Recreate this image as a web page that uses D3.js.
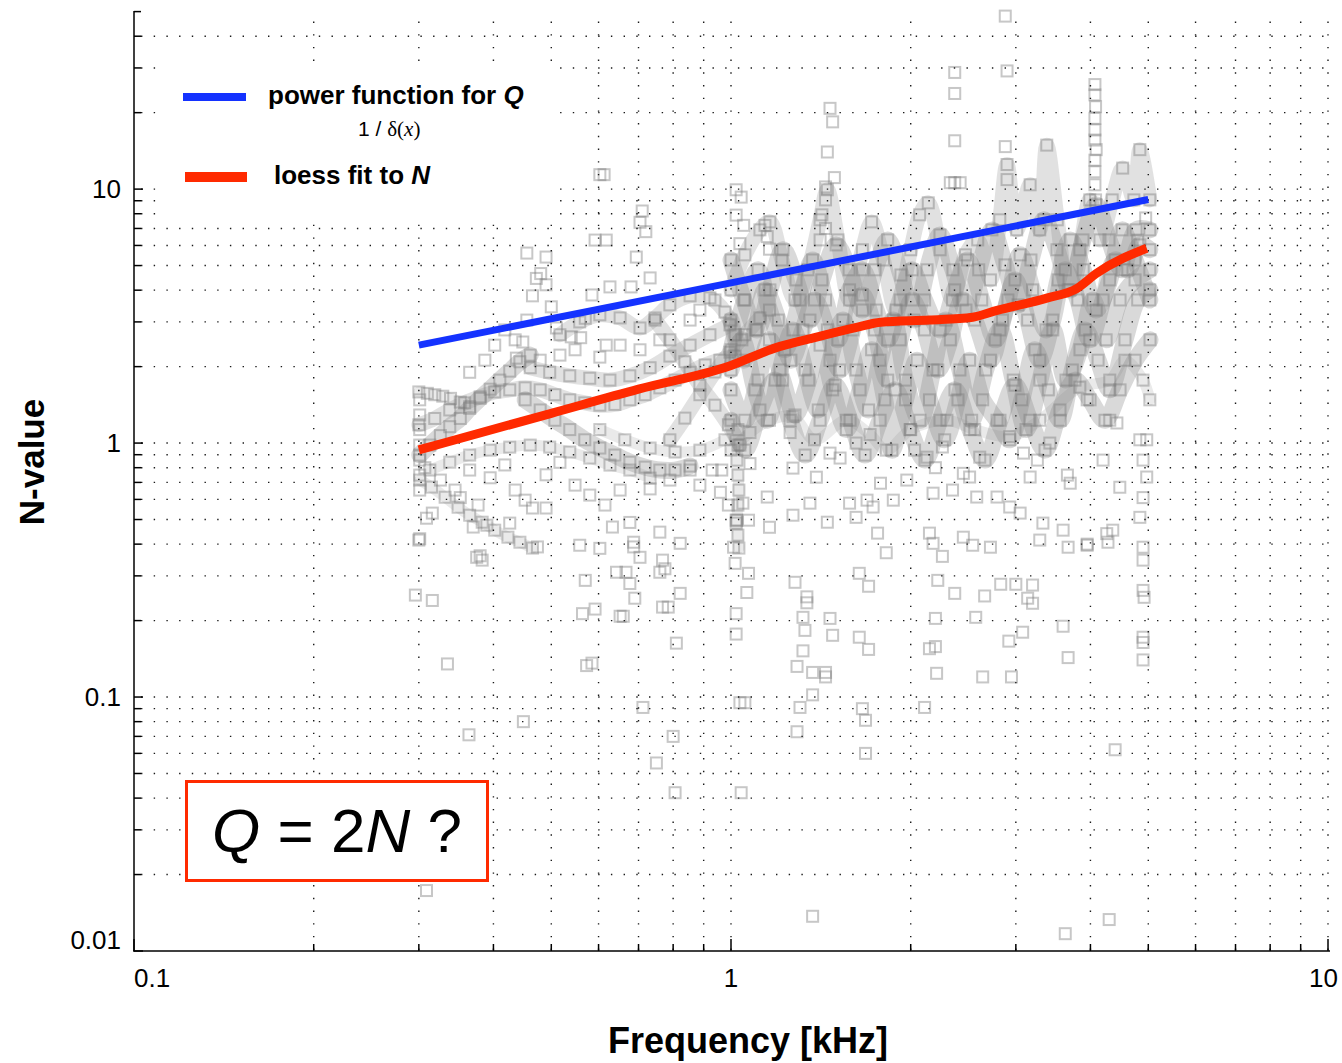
<!DOCTYPE html>
<html><head><meta charset="utf-8">
<script src="https://cdn.jsdelivr.net/npm/d3@7"></script>
<style>body{margin:0;background:#fff} svg{display:block}</style>
</head><body>
<svg id="chart" width="1342" height="1063"></svg>
<script>
// ---- axis labels ----
const xTickValues = [0.1, 1, 10];
const xTickLabels = ['0.1', '1', '10'];
const yTickValues = [0.01, 0.1, 1, 10];
const yTickLabels = ['0.01', '0.1', '1', '10'];

// ---- fitted curves: [frequency kHz, value] ----
const powerQ = [[0.3, 2.43], [5.0, 9.1]];
const loessN = [[0.3, 0.94], [0.5, 1.31], [0.7, 1.63], [1.0, 2.02], [1.18, 2.36], [1.37, 2.59], [1.63, 2.86],
  [1.78, 2.99], [2.15, 3.05], [2.54, 3.13], [2.79, 3.33], [3.38, 3.72], [3.8, 4.07], [4.1, 4.67], [4.97, 5.85]];

// ---- N-value sweeps (dense runs of measurements) ----
const sweepA = [[1.00,4.01],[1.055,5.51],[1.118,6.91],[1.162,7.43],[1.217,5.26],[1.28,3.66],[1.346,4.81],[1.41,7.57],[1.45,9.94],
  [1.51,6.31],[1.58,3.66],[1.66,5.77],[1.72,7.43],[1.80,5.26],[1.89,3.34],[2.0,5.77],[2.07,7.92],[2.14,8.83],[2.24,5.77],[2.35,3.66],
  [2.47,5.51],[2.59,6.31],[2.72,4.39],[2.82,7.57],[2.90,12.5],[3.01,6.91],[3.17,10.4],[3.29,6.91],[3.38,14.9],[3.52,7.57],[3.67,4.01],
  [3.84,5.77],[3.99,9.07],[4.15,6.31],[4.35,9.07],[4.53,12.1],[4.73,9.07],[4.84,14.3],[5.03,9.07]];
const sweepB = [[1.00,3.05],[1.05,2.12],[1.10,2.79],[1.14,4.01],[1.20,3.05],[1.26,2.12],[1.32,2.79],[1.38,3.66],[1.45,2.79],[1.52,1.94],
  [1.60,2.79],[1.66,3.83],[1.74,2.79],[1.83,1.77],[1.92,2.55],[2.01,3.66],[2.11,2.79],[2.22,1.94],[2.33,2.55],[2.44,3.66],[2.56,3.05],
  [2.72,2.12],[2.85,3.05],[2.99,4.39],[3.14,3.05],[3.29,2.12],[3.46,3.05],[3.63,4.81],[3.81,3.66],[3.99,2.55],[4.20,3.66],[4.40,5.26],
  [4.62,4.81],[4.84,6.03],[5.03,5.77]];
const sweepC = [[1.00,1.62],[1.055,1.23],[1.11,1.77],[1.16,2.55],[1.22,1.77],[1.28,1.29],[1.35,1.77],[1.41,2.43],[1.48,1.62],[1.56,1.13],
  [1.645,1.62],[1.72,2.33],[1.81,1.48],[1.86,0.938],[1.96,1.48],[2.05,2.12],[2.15,1.48],[2.28,1.03],[2.40,1.48],[2.51,2.12],[2.64,1.48],
  [2.79,1.23],[2.93,1.03],[3.07,1.48],[3.23,2.33],[3.40,1.62],[3.56,1.23],[3.73,1.94],[3.92,2.79],[4.12,2.12],[4.31,1.62],[4.57,2.55],
  [4.80,3.66],[5.03,4.01]];
const sweepD = [[1.00,2.33],[1.055,3.66],[1.11,4.81],[1.16,3.34],[1.23,2.33],[1.305,3.66],[1.37,5.26],[1.44,3.66],[1.51,2.55],[1.58,4.01],
  [1.66,4.81],[1.75,3.34],[1.83,2.55],[1.92,3.66],[2.01,4.81],[2.11,3.66],[2.24,2.79],[2.37,4.01],[2.49,5.26],[2.63,3.66],[2.77,2.55],
  [2.91,3.66],[3.05,5.51],[3.20,4.01],[3.37,2.79],[3.53,4.39],[3.70,6.31],[3.89,4.81],[4.09,3.34],[4.31,4.39],[4.52,6.91],[4.75,5.26],
  [5.03,3.66]];
const sweepE = [[1.00,0.938],[1.076,1.10],[1.16,1.23],[1.27,1.27],[1.38,1.03],[1.56,1.23],[1.71,1.08],[1.82,0.938],[2.0,1.13],[2.30,1.23],
  [2.56,1.13],[2.93,1.06],[3.29,1.23],[3.84,1.66],[4.31,1.77],[4.57,2.12],[4.90,1.77],[5.03,1.48]];
const sweepP = [[1.0,1.94],[1.043,2.55],[1.097,1.62],[1.15,1.23],[1.208,1.94],[1.27,2.79],[1.331,1.94],[1.40,1.35],[1.465,2.12],
  [1.54,3.05],[1.62,1.94],[1.70,1.35],[1.777,2.12],[1.87,3.05],[1.96,1.77],[2.073,1.23],[2.18,1.94],[2.29,3.05],[2.418,1.94],[2.53,1.23],
  [2.67,1.94],[2.822,2.79],[2.97,1.77],[3.12,1.13],[3.293,1.77],[3.46,2.79],[3.64,1.77],[3.842,2.33],[4.04,3.66],[4.25,2.55],[4.484,3.66],
  [4.751,4.39],[5.03,4.81]];
const sweepQ = [[1.0,5.26],[1.051,3.66],[1.105,2.79],[1.162,4.01],[1.222,5.77],[1.285,4.39],[1.356,3.05],[1.42,4.39],[1.50,6.03],
  [1.577,4.81],[1.66,3.34],[1.743,4.81],[1.83,6.31],[1.926,4.59],[2.026,3.05],[2.13,4.81],[2.239,6.60],[2.354,4.81],[2.475,3.34],
  [2.60,4.81],[2.736,6.91],[2.877,5.03],[3.025,3.50],[3.18,5.26],[3.344,7.57],[3.516,5.77],[3.697,4.01],[3.887,6.31],[4.087,8.67],
  [4.297,6.31],[4.518,4.81],[4.77,6.91],[5.03,6.91]];
const sweepR = [[1.0,1.23],[1.055,0.938],[1.118,1.35],[1.185,1.77],[1.256,1.23],[1.331,0.897],[1.41,1.23],[1.494,1.69],[1.583,1.23],
  [1.677,0.897],[1.777,1.23],[1.883,1.62],[1.995,1.13],[2.113,0.857],[2.239,1.23],[2.372,1.62],[2.514,1.13],[2.663,0.857],[2.822,1.23],
  [2.99,1.69],[3.168,1.23],[3.357,0.938],[3.557,1.35],[3.769,1.77],[3.994,1.48],[4.231,1.23],[4.484,1.62],[4.751,2.12],[5.034,2.55]];
const sweepF = [[0.301,0.897],[0.313,0.982],[0.326,1.07],[0.338,1.16],[0.352,1.25],[0.365,1.37],[0.38,1.50],[0.395,1.63],[0.41,1.77],
  [0.426,1.92],[0.443,2.09],[0.461,2.22]];
const sweepG = [[0.30,1.59],[0.31,1.57],[0.319,1.55],[0.329,1.53],[0.339,1.50],[0.352,1.45],[0.365,1.39]];
const sweepH = [[0.461,1.98],[0.497,1.90],[0.537,1.84],[0.58,1.80],[0.627,1.77],[0.677,1.84],[0.732,1.98],[0.79,2.20],[0.854,2.43],
  [0.922,2.67],[0.996,2.92]];
const sweepI = [[0.452,1.48],[0.479,1.35],[0.507,1.23],[0.537,1.13],[0.569,1.03],[0.603,0.956],[0.639,0.897],[0.677,0.841],[0.718,0.804],
  [0.76,0.783],[0.806,0.783],[0.854,0.812]];
const sweepJ = [[0.301,0.715],[0.315,0.671],[0.332,0.612],[0.349,0.559],[0.365,0.52],[0.383,0.488],[0.402,0.454],[0.423,0.426],
  [0.443,0.407],[0.465,0.386]];
const sweepK = [[0.517,2.67],[0.558,3.0],[0.603,3.20],[0.652,3.11],[0.704,2.84],[0.746,3.11],[0.79,3.50],[0.854,3.80],[0.922,3.73],
  [0.977,3.28],[1.016,2.67]];
const sweepL = [[0.746,3.05],[0.79,2.55],[0.837,2.09],[0.887,1.69],[0.94,1.41],[0.99,1.18],[1.035,0.982]];
const sweepM = [[0.79,1.03],[0.837,1.254],[0.887,1.55],[0.94,1.905],[0.996,2.28],[1.055,2.67],[1.118,3.11]];
const sweepN = [[0.603,1.13],[0.664,1.03],[0.732,0.956],[0.806,0.922],[0.887,0.938],[0.977,1.03]];
const sweepO = [[1.027,1.13],[1.027,0.982],[1.023,0.857],[1.027,0.748],[1.031,0.653],[1.027,0.570],[1.023,0.497],[1.027,0.434],[1.031,0.386]];
const sweepS = [[0.30,1.18],[0.319,1.25],[0.338,1.35],[0.358,1.44],[0.38,1.52],[0.402,1.59],[0.426,1.62],[0.452,1.65],[0.479,1.62],
  [0.507,1.55],[0.537,1.48],[0.569,1.44],[0.603,1.41],[0.639,1.42],[0.677,1.48],[0.718,1.55],[0.76,1.65],[0.806,1.77],[0.854,1.90],
  [0.905,2.03],[0.958,2.12],[1.016,2.20]];
const sweepT = [[0.313,0.783],[0.338,0.841],[0.365,0.897],[0.395,0.938],[0.426,0.964],[0.461,0.982],[0.497,0.964],[0.537,0.922],
  [0.58,0.873],[0.627,0.819],[0.677,0.783],[0.732,0.728]];

// ---- scattered single measurements ----
const scatterHigh = [[2.88,48],[2.90,29.2],[2.37,28.8],[2.37,23.8],[2.37,15.5],[2.33,10.6],[2.37,10.6],[2.42,10.6],[2.88,14.7],[2.90,10.9],
  [4.07,25.8],[4.07,23.5],[4.08,21.1],[4.07,19.0],[4.07,17.1],[4.07,15.6],[4.09,14.3],[4.07,13.0],[4.07,11.7],[4.07,10.4],[4.08,9.07],
  [1.465,20.8],[1.48,18.4],[1.45,14.0],[1.49,11.1],[1.44,10.2],[1.44,9.07],[1.42,7.92],[1.44,7.0],[1.41,6.31],
  [0.603,11.4],[0.613,11.4],[0.71,8.2],[0.704,7.4],[0.72,6.8],
  [1.02,9.94],[1.04,9.3],[1.02,7.9],[1.05,7.2],[1.035,6.1],[1.14,7.2],[1.15,6.5],[1.16,5.8],
  [0.455,5.6],[0.49,5.4],[0.48,4.65],[0.472,4.45],[0.49,4.2],[0.465,3.8],
  [0.592,6.3],[0.618,6.3],[0.694,5.4],[0.732,4.47],[0.68,4.12],[0.627,4.12],[0.585,3.83],
  [0.455,3.05],[0.50,3.44],[0.51,2.84],[0.54,2.62],[0.448,2.5],[0.437,2.16],[0.56,2.6],[0.57,3.1],[0.618,2.43],[0.603,2.18],
  [4.95,7.7],[4.8,6.3],
  [0.365,1.9],[0.387,2.12],[0.402,2.43],[0.418,2.79],[0.435,2.55],[0.479,2.12],[0.517,2.22],[0.548,2.33],[0.652,2.43],[0.704,2.33],
  [0.76,2.55],[0.854,3.05],[0.887,3.34],[0.94,3.66],
  [0.301,1.48],[0.301,1.29],[0.301,1.13],[0.301,0.982],[0.301,0.857],[0.301,0.748],[0.301,0.653]];
const scatterLow = [[0.3,0.415],[0.296,0.252],[0.316,0.24],[0.335,0.135],[0.364,0.071],[0.449,0.08],[0.309,0.0173],[0.57,0.288],
  [0.564,0.213],[0.592,0.222],[0.573,0.133],[0.585,0.136],[0.643,0.31],[0.667,0.31],[0.677,0.28],[0.69,0.245],[0.704,0.355],[0.687,0.39],
  [0.652,0.208],[0.66,0.208],[0.768,0.346],[0.775,0.32],[0.76,0.31],[0.822,0.256],[0.768,0.226],[0.785,0.226],[0.81,0.163],[0.712,0.091],
  [0.8,0.07],[0.75,0.055],[0.806,0.042],[0.603,0.385],[0.558,0.396],[1.01,0.389],[1.016,0.336],[1.07,0.307],[1.063,0.258],[1.02,0.213],
  [1.02,0.177],[1.035,0.095],[1.055,0.095],[1.04,0.042],
  [1.28,0.283],[1.34,0.248],[1.34,0.235],[1.32,0.206],[1.33,0.183],[1.465,0.204],[1.48,0.175],[1.64,0.307],[1.70,0.273],[1.64,0.172],
  [1.70,0.154],[1.32,0.152],[1.29,0.132],[1.37,0.125],[1.44,0.125],[1.44,0.12],[1.37,0.102],[1.305,0.091],[1.66,0.09],[1.68,0.081],
  [1.29,0.073],[1.68,0.06],[1.37,0.0137],[1.82,0.37],[2.26,0.358],[2.22,0.288],[2.37,0.256],[2.66,0.25],[2.83,0.278],[3.0,0.278],
  [3.2,0.276],[3.14,0.245],[3.2,0.234],[2.2,0.204],[2.57,0.206],[2.2,0.158],[2.15,0.155],[3.08,0.18],[2.92,0.166],[3.6,0.19],[3.67,0.143],
  [2.21,0.124],[2.64,0.12],[2.95,0.12],[2.11,0.091],[4.4,0.062],[3.63,0.0117],[4.3,0.0133],[3.67,0.389],[3.95,0.396],[4.28,0.407],
  [3.29,0.415],[2.54,0.396],[2.18,0.403],
  [0.301,0.42],[0.316,0.53],[0.309,0.506],[0.377,0.57],[0.352,0.61],[0.465,0.555],[0.49,0.555],[0.687,0.407],[0.76,0.446],[0.822,0.403],
  [0.633,0.467],[0.677,0.487],[0.37,0.467],[0.39,0.475],[0.426,0.484],[0.474,0.39],[0.38,0.36],[0.375,0.355],[0.383,0.346],
  [0.307,0.80],[0.326,0.715],[0.345,0.653],[0.365,0.783],[0.395,0.73],[0.418,0.82],[0.435,0.653],[0.452,0.596],[0.49,0.75],[0.517,0.84],
  [0.548,0.683],[0.58,0.624],[0.615,0.57],[0.652,0.653],[0.732,0.66],[0.79,0.715],[0.854,0.783],[0.887,0.683],[0.93,0.783],[0.96,0.64],
  [0.99,0.57],[1.02,0.497],[0.965,0.783],
  [1.256,1.1],[1.076,0.83],[1.27,0.797],[1.39,0.734],[1.465,0.913],[1.523,0.873],[1.62,1.0],[1.69,0.596],[1.73,0.56],[1.27,0.52],
  [1.45,0.488],[1.62,0.51],[1.87,0.596],[2.03,0.938],[2.13,0.88],[2.2,0.80],[2.26,0.965],[2.45,0.76],[2.51,0.735],[2.58,0.613],
  [2.79,0.613],[2.93,0.56],[3.05,0.53],[3.33,0.484],[3.6,0.454],[3.95,0.40],[4.26,0.44],[4.36,0.454],[3.7,0.695],[4.2,0.857],[4.84,1.03],
  [4.9,0.857],[4.97,0.735],[4.9,0.61],[4.84,0.51],[4.48,0.67],[3.66,0.748],[3.26,0.857],[3.09,0.913],[3.42,1.0],[4.31,1.23],[4.43,1.2],
  [3.95,1.48],[4.97,1.03],[3.17,0.735],[2.61,0.88],[2.35,0.653],[2.18,0.635],[1.97,0.715],[1.78,0.695],[1.58,0.58],[1.356,0.58],
  [1.15,0.613],[1.047,0.58],[1.02,0.484],[1.07,0.497],[1.76,0.442],[2.15,0.442],[2.45,0.426],[2.72,0.389],[1.16,0.466],
  [4.9,0.389],[4.9,0.346],[4.9,0.263],[4.92,0.247],[4.9,0.172],[4.9,0.164],[4.9,0.14]];

// sparse runs (thin, pale), medium runs, and the dense high-frequency runs
const sweepsSparse = [sweepE, sweepG, sweepJ, sweepN, sweepT, sweepO];
const sweepsMedium = [sweepA, sweepK, sweepH, sweepS, sweepL, sweepM];
const sweepsDense = [sweepB, sweepC, sweepD, sweepP, sweepQ, sweepR, sweepF, sweepI];

const svg = d3.select('#chart');
const x = d3.scaleLog().domain([0.1, 10]).range([134, 1328]);
const y = d3.scaleLog().domain([0.01, 50]).range([951, 11.6]);
const FONT = '"Liberation Sans", Arial, Helvetica, sans-serif';

const plot = svg.append('g');

// sweeps drawn as wide translucent ribbons
const ribbon = d3.line().x(d => x(d[0])).y(d => y(d[1])).curve(d3.curveCatmullRom.alpha(0.5));
function drawRibbons(list, width, opacity) {
  plot.append('g').selectAll('path').data(list).join('path')
    .attr('d', ribbon)
    .attr('fill', 'none')
    .attr('stroke', '#8a8a8a')
    .attr('stroke-opacity', opacity)
    .attr('stroke-width', width)
    .attr('stroke-linejoin', 'round')
    .attr('stroke-linecap', 'round');
}
drawRibbons(sweepsSparse, 11, 0.18);
drawRibbons(sweepsMedium, 15, 0.26);
drawRibbons(sweepsDense, 17, 0.32);

// open square markers
const allPts = sweepsSparse.concat(sweepsMedium, sweepsDense).flat().concat(scatterHigh, scatterLow);
const S = 11;
plot.append('g').selectAll('rect').data(allPts).join('rect')
  .attr('x', d => x(d[0]) - S / 2)
  .attr('y', d => y(d[1]) - S / 2)
  .attr('width', S).attr('height', S)
  .attr('fill', 'none')
  .attr('stroke', '#7a7a7a')
  .attr('stroke-opacity', 0.42)
  .attr('stroke-width', 2);

// dotted grid
const grid = svg.append('g').attr('stroke', '#1a1a1a').attr('stroke-width', 1.4).attr('stroke-dasharray', '1.4 11.3');
const xGrid = x.ticks().filter(v => v > 0.1 + 1e-9);
const yGrid = y.ticks().filter(v => v > 0.01 + 1e-9 && v < 50 - 1e-9);
grid.selectAll('line.v').data(xGrid).join('line').attr('class', 'v')
  .attr('x1', d => x(d)).attr('x2', d => x(d)).attr('y1', 950).attr('y2', 11.6);
grid.selectAll('line.h').data(yGrid).join('line').attr('class', 'h')
  .attr('x1', 141).attr('x2', 1330).attr('y1', d => y(d)).attr('y2', d => y(d));

// fitted curves
const curve = d3.line().x(d => x(d[0])).y(d => y(d[1]));
svg.append('path').datum(powerQ).attr('d', curve).attr('fill', 'none')
  .attr('stroke', '#1432ff').attr('stroke-width', 7);
svg.append('path').datum(loessN).attr('d', curve.curve(d3.curveMonotoneX)).attr('fill', 'none')
  .attr('stroke', '#ff2a00').attr('stroke-width', 9).attr('stroke-linejoin', 'round');

// axes
const axes = svg.append('g').attr('stroke', '#000').attr('stroke-width', 1.5);
axes.append('line').attr('x1', 134).attr('x2', 134).attr('y1', 11).attr('y2', 951.5);
axes.append('line').attr('x1', 133.3).attr('x2', 1330).attr('y1', 951).attr('y2', 951);
const isMajor = v => Math.abs(Math.log10(v) - Math.round(Math.log10(v))) < 1e-6;
axes.selectAll('line.yt').data(y.ticks()).join('line').attr('class', 'yt')
  .attr('x1', 134).attr('x2', d => isMajor(d) ? 143 : 141)
  .attr('y1', d => y(d)).attr('y2', d => y(d));
axes.selectAll('line.xt').data(x.ticks()).join('line').attr('class', 'xt')
  .attr('x1', d => x(d)).attr('x2', d => x(d))
  .attr('y1', 951).attr('y2', d => isMajor(d) ? 939 : 944);

// tick labels
const lab = svg.append('g').attr('font-family', FONT).attr('font-size', 26).attr('fill', '#000');
lab.selectAll('text.yl').data(yTickValues).join('text').attr('class', 'yl')
  .attr('x', 121).attr('y', (d, i) => y(d) + 9 - (i === 0 ? 11 : 0))
  .attr('text-anchor', 'end')
  .text((d, i) => yTickLabels[i]);
lab.selectAll('text.xl').data(xTickValues).join('text').attr('class', 'xl')
  .attr('x', (d, i) => x(d) + (i === 2 ? 10 : 0))
  .attr('y', 987)
  .attr('text-anchor', (d, i) => ['start', 'middle', 'end'][i])
  .text((d, i) => xTickLabels[i]);

// axis titles
svg.append('text').attr('x', 748).attr('y', 1053).attr('text-anchor', 'middle')
  .attr('font-family', FONT).attr('font-weight', 'bold').attr('font-size', 36).text('Frequency [kHz]');
svg.append('text').attr('transform', 'translate(44,462) rotate(-90)').attr('text-anchor', 'middle')
  .attr('font-family', FONT).attr('font-weight', 'bold').attr('font-size', 35).text('N-value');

// legend
const leg = svg.append('g');
leg.append('rect').attr('x', 166).attr('y', 66).attr('width', 388).attr('height', 153).attr('fill', '#fff');
leg.append('line').attr('x1', 183).attr('x2', 246).attr('y1', 97).attr('y2', 97).attr('stroke', '#1432ff').attr('stroke-width', 8);
leg.append('line').attr('x1', 185).attr('x2', 247).attr('y1', 177).attr('y2', 177).attr('stroke', '#ff2a00').attr('stroke-width', 10);
const t1 = leg.append('text').attr('x', 268).attr('y', 104).attr('font-family', FONT).attr('font-weight', 'bold').attr('font-size', 26);
t1.append('tspan').text('power function for ');
t1.append('tspan').attr('font-style', 'italic').text('Q');
const t2 = leg.append('text').attr('x', 358).attr('y', 136).attr('font-size', 21);
t2.append('tspan').attr('font-family', FONT).text('1 / ');
t2.append('tspan').attr('font-family', '"Liberation Serif", serif').text('δ(');
t2.append('tspan').attr('font-family', '"Liberation Serif", serif').attr('font-style', 'italic').text('x');
t2.append('tspan').attr('font-family', '"Liberation Serif", serif').text(')');
const t3 = leg.append('text').attr('x', 274).attr('y', 184).attr('font-family', FONT).attr('font-weight', 'bold').attr('font-size', 26);
t3.append('tspan').text('loess fit to ');
t3.append('tspan').attr('font-style', 'italic').text('N');

// annotation box
const box = svg.append('g');
box.append('rect').attr('x', 186.5).attr('y', 781.5).attr('width', 301).attr('height', 99)
  .attr('fill', '#fff').attr('stroke', '#ff2a00').attr('stroke-width', 3);
const qt = box.append('text').attr('x', 212).attr('y', 852).attr('font-family', FONT).attr('font-size', 62);
qt.append('tspan').attr('font-style', 'italic').text('Q');
qt.append('tspan').text(' = 2');
qt.append('tspan').attr('font-style', 'italic').text('N');
qt.append('tspan').text(' ?');
</script>
</body></html>
